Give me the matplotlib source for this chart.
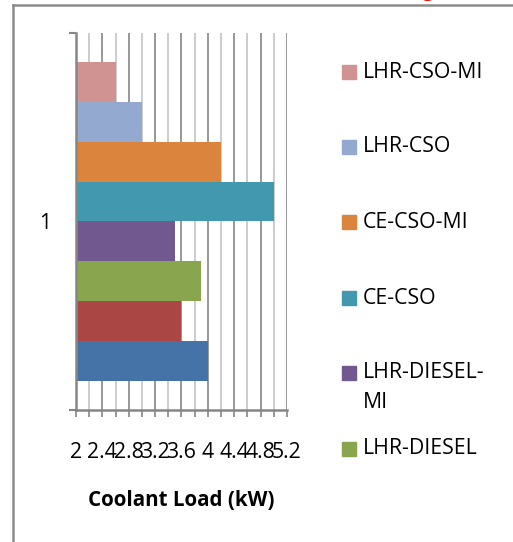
import matplotlib
matplotlib.use("Agg")
import matplotlib.pyplot as plt
from matplotlib.patches import Rectangle
from matplotlib.lines import Line2D
import numpy as np

# ---- data ----
series = ["CE-DIESEL", "CE-DIESEL-MI", "LHR-DIESEL", "LHR-DIESEL-MI",
          "CE-CSO", "CE-CSO-MI", "LHR-CSO", "LHR-CSO-MI"]
values = [4.0, 3.6, 3.9, 3.5, 5.0, 4.2, 3.0, 2.6]
colors = ["#4572A7", "#AA4643", "#89A54E", "#71588F",
          "#4198AF", "#DB843D", "#93A9CF", "#D19392"]
category = "1"
x_ticks = [2, 2.4, 2.8, 3.2, 3.6, 4, 4.4, 4.8, 5.2]
x_tick_labels = ["2", "2.4", "2.8", "3.2", "3.6", "4", "4.4", "4.8", "5.2"]
x_label = "Coolant Load (kW)"
legend_shown = ["LHR-CSO-MI", "LHR-CSO", "CE-CSO-MI", "CE-CSO",
                "LHR-DIESEL-MI", "LHR-DIESEL"]

FONT = "Open Sans"
FS = 15.3
W, H = 513, 542
fig = plt.figure(figsize=(W / 100, H / 100), dpi=100)

ax_l, ax_r, ax_t, ax_b = 76, 287, 33, 410
ax = fig.add_axes([ax_l / W, 1 - ax_b / H, (ax_r - ax_l) / W, (ax_b - ax_t) / H])

pos = np.arange(len(series))
ax.barh(pos, values, height=1.0, color=colors, zorder=3)
ax.set_xlim(2, 5.2)
ax.set_ylim(-1.225, len(series) - 1 + 1.225)

grid_dark = "#868686"
grid_light = "#C4C4C4"
ax.set_xticks(x_ticks, labels=x_tick_labels, fontfamily=FONT, fontsize=FS)
ax.set_xticks(np.arange(2.2, 5.2, 0.4), minor=True)
ax.grid(axis="x", which="major", color=grid_dark, linewidth=1.2, zorder=0)
ax.grid(axis="x", which="minor", color=grid_light, linewidth=1.2, zorder=0)
ax.set_axisbelow(True)
ax.tick_params(axis="x", which="both", direction="out", length=5, width=1.2,
               color=grid_dark, pad=18)

ylo, yhi = ax.get_ylim()
ax.set_yticks([(ylo + yhi) / 2], labels=[category], fontfamily=FONT, fontsize=FS)
ax.tick_params(axis="y", which="major", length=0, pad=18)
ax.set_yticks([ylo, yhi], minor=True)
ax.tick_params(axis="y", which="minor", length=5, width=1.5, color=grid_dark)

for s in ["top", "right"]:
    ax.spines[s].set_visible(False)
for s in ["left", "bottom"]:
    ax.spines[s].set_color(grid_dark)
    ax.spines[s].set_linewidth(1.8)
    ax.spines[s].set_zorder(4)

fig.text(181.5 / W, 1 - 500 / H, x_label, fontfamily=FONT, fontweight="bold",
         fontsize=14.8, ha="center", va="center")

# legend (manually placed, only the visible part)
color_of = dict(zip(series, colors))
leg_y = [72, 147, 222, 298, 373, 449]
for name, yc in zip(legend_shown, leg_y):
    fig.patches.append(Rectangle((342 / W, 1 - (yc + 7) / H), 14 / W, 14 / H,
                                 transform=fig.transFigure, color=color_of[name]))
    if name == "LHR-DIESEL-MI":
        fig.text(363 / W, 1 - yc / H, "LHR-DIESEL-", fontfamily=FONT,
                 fontsize=FS, va="center", ha="left")
        fig.text(363 / W, 1 - (yc + 30) / H, "MI", fontfamily=FONT,
                 fontsize=FS, va="center", ha="left")
    else:
        fig.text(363 / W, 1 - yc / H, name, fontfamily=FONT, fontsize=FS,
                 va="center", ha="left")

# outer frame (left and top edges visible)
fig.add_artist(Line2D([13 / W, 13 / W], [0, 1 - 5 / H], color="#8C8C8C",
                      linewidth=1.8, transform=fig.transFigure))
fig.add_artist(Line2D([13 / W, 1], [1 - 5 / H, 1 - 5 / H], color="#8C8C8C",
                      linewidth=1.8, transform=fig.transFigure))
# clipped red text at the top edge (as in the reference)
fig.text(428 / W, 1 + 3 / H, "g", color="red", fontfamily=FONT, fontsize=13,
         ha="center", va="baseline")

fig.savefig("out.png", dpi=100)
